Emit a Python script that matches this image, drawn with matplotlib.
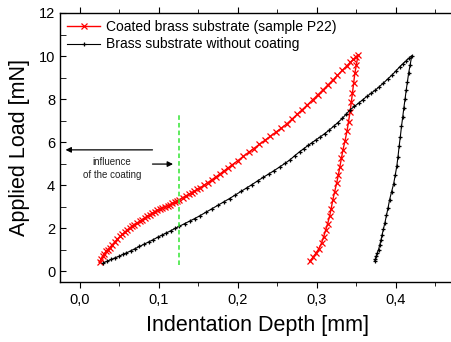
import matplotlib
matplotlib.use('Agg')
import matplotlib.pyplot as plt

plt.rcParams['font.family'] = ['Liberation Sans', 'DejaVu Sans']

# coated sample (P22): loading then unloading
coat_load_x = [0.025, 0.027, 0.029, 0.031, 0.033, 0.0355, 0.038, 0.041, 0.044, 0.0475,
               0.051, 0.054, 0.057, 0.060, 0.063, 0.066, 0.069, 0.0725, 0.076, 0.079,
               0.082, 0.0855, 0.089, 0.092, 0.095, 0.098, 0.101, 0.1045, 0.108, 0.111,
               0.114, 0.117, 0.120, 0.123, 0.126, 0.130, 0.134, 0.138, 0.1415, 0.145,
               0.1485, 0.152, 0.157, 0.162, 0.167, 0.172, 0.177, 0.182, 0.1875, 0.193,
               0.200, 0.207, 0.2135, 0.220, 0.227, 0.234, 0.241, 0.248, 0.255, 0.262,
               0.2685, 0.275, 0.2815, 0.288, 0.2945, 0.301, 0.3075, 0.314, 0.320, 0.326,
               0.332, 0.338, 0.342, 0.346, 0.349, 0.352]
coat_load_y = [0.42, 0.56, 0.70, 0.81, 0.92, 1.01, 1.10, 1.23, 1.35, 1.49,
               1.62, 1.72, 1.82, 1.92, 2.01, 2.09, 2.17, 2.25, 2.32, 2.40,
               2.48, 2.56, 2.63, 2.70, 2.76, 2.83, 2.89, 2.95, 3.00, 3.05,
               3.10, 3.15, 3.20, 3.25, 3.30, 3.42, 3.50, 3.58, 3.65, 3.72,
               3.80, 3.87, 3.99, 4.12, 4.25, 4.38, 4.51, 4.65, 4.80, 4.95,
               5.14, 5.34, 5.52, 5.70, 5.89, 6.08, 6.27, 6.46, 6.65, 6.85,
               7.07, 7.29, 7.51, 7.73, 7.96, 8.19, 8.42, 8.66, 8.88, 9.10,
               9.33, 9.55, 9.70, 9.84, 9.95, 10.06]
coat_unload_x = [0.352, 0.350, 0.348, 0.3465, 0.345, 0.3435, 0.342, 0.340, 0.338,
                 0.3355, 0.333, 0.331, 0.329, 0.327, 0.325, 0.3225, 0.320, 0.318,
                 0.316, 0.3135, 0.311, 0.3085, 0.306, 0.3025, 0.299, 0.295, 0.291]
coat_unload_y = [10.06, 9.60, 9.20, 8.75, 8.30, 7.85, 7.42, 6.95, 6.50,
                 6.05, 5.65, 5.25, 4.85, 4.45, 4.10, 3.70, 3.30, 2.90,
                 2.55, 2.20, 1.90, 1.60, 1.32, 1.05, 0.85, 0.65, 0.46]

# uncoated brass
brass_load_x = [0.030, 0.035, 0.040, 0.045, 0.050, 0.0545, 0.059, 0.0645, 0.070, 0.0755,
                0.081, 0.087, 0.093, 0.0985, 0.104, 0.1095, 0.115, 0.1205, 0.126, 0.1325,
                0.139, 0.1455, 0.152, 0.1595, 0.167, 0.1745, 0.182, 0.1895, 0.197, 0.204,
                0.211, 0.218, 0.225, 0.232, 0.239, 0.246, 0.253, 0.2595, 0.266, 0.272,
                0.278, 0.2835, 0.289, 0.294, 0.299, 0.3045, 0.310, 0.3155, 0.321, 0.3265,
                0.332, 0.337, 0.342, 0.3475, 0.353, 0.358, 0.363, 0.3685, 0.374, 0.379,
                0.384, 0.3895, 0.395, 0.400, 0.405, 0.409, 0.413, 0.4165, 0.420]
brass_load_y = [0.39, 0.47, 0.55, 0.63, 0.70, 0.78, 0.85, 0.95, 1.05, 1.15,
                1.25, 1.36, 1.47, 1.58, 1.68, 1.78, 1.88, 1.99, 2.09, 2.21,
                2.33, 2.45, 2.58, 2.74, 2.90, 3.06, 3.22, 3.38, 3.55, 3.71,
                3.87, 4.03, 4.20, 4.36, 4.52, 4.68, 4.85, 5.01, 5.18, 5.37,
                5.55, 5.70, 5.85, 5.98, 6.11, 6.25, 6.40, 6.56, 6.73, 6.91,
                7.10, 7.30, 7.50, 7.66, 7.82, 7.97, 8.12, 8.27, 8.42, 8.58,
                8.74, 8.93, 9.12, 9.31, 9.51, 9.65, 9.78, 9.90, 10.02]
brass_unload_x = [0.420, 0.418, 0.416, 0.4145, 0.413, 0.4115, 0.410, 0.4085, 0.407, 0.4055,
                  0.404, 0.4025, 0.401, 0.399, 0.397, 0.3945, 0.392, 0.390, 0.388, 0.386,
                  0.384, 0.3825, 0.381, 0.3795, 0.378, 0.3765, 0.375, 0.374, 0.373]
brass_unload_y = [10.02, 9.60, 9.20, 8.80, 8.43, 8.00, 7.60, 7.15, 6.73, 6.25,
                  5.80, 5.30, 4.87, 4.45, 4.05, 3.70, 3.33, 2.95, 2.60, 2.25,
                  1.94, 1.70, 1.45, 1.22, 1.01, 0.85, 0.70, 0.56, 0.46]

xticks = [0.0, 0.1, 0.2, 0.3, 0.4]
xticklabels = ['0,0', '0,1', '0,2', '0,3', '0,4']
yticks = [0, 2, 4, 6, 8, 10, 12]

fig = plt.figure(figsize=(4.51, 3.42), dpi=100)
ax = fig.add_axes([60 / 451, 60 / 342, 395.25 / 451, 269 / 342])

ax.plot(coat_load_x + coat_unload_x[1:], coat_load_y + coat_unload_y[1:],
        color='red', lw=1.0, marker='x', ms=3.8, mew=0.9,
        label='Coated brass substrate (sample P22)')
ax.plot(brass_load_x + brass_unload_x[1:], brass_load_y + brass_unload_y[1:],
        color='black', lw=0.8, marker='+', ms=3.5, mew=0.9,
        label='Brass substrate without coating')

# influence of the coating
ax.plot([0.126, 0.126], [0.3, 7.35], color='#33e633', lw=1.1, ls=(0, (3, 2)))
ax.annotate('', xy=(-0.018, 5.64), xytext=(0.092, 5.64),
            arrowprops=dict(arrowstyle='-|>', color='black', lw=0.9,
                            mutation_scale=8, shrinkA=0, shrinkB=0))
ax.annotate('', xy=(0.118, 4.98), xytext=(0.092, 4.98),
            arrowprops=dict(arrowstyle='-|>', color='black', lw=0.9,
                            mutation_scale=8, shrinkA=0, shrinkB=0))
ax.text(0.0405, 4.79, 'influence\nof the coating', ha='center', va='center',
        fontsize=7, color='#222222', linespacing=1.35)

ax.set_xlim(-0.025, 0.475)
ax.set_ylim(-0.5, 12)
ax.set_xticks(xticks)
ax.set_xticklabels(xticklabels)
ax.set_xticks([0.05, 0.15, 0.25, 0.35, 0.45], minor=True)
ax.set_yticks(yticks)
ax.set_yticks([1, 3, 5, 7, 9, 11], minor=True)
ax.tick_params(axis='x', which='both', direction='out', labelsize=10.5, pad=4)
ax.tick_params(axis='x', which='major', length=4)
ax.tick_params(axis='x', which='minor', length=3)
ax.tick_params(axis='y', which='both', direction='in', length=4, labelsize=10.5)
ax.tick_params(axis='x', which='both', top=True)
ax.spines['right'].set_visible(False)
for s in ['left', 'bottom', 'top']:
    ax.spines[s].set_linewidth(1.0)

ax.set_xlabel('Indentation Depth [mm]', fontsize=15.5, labelpad=6)
ax.set_ylabel('Applied Load [mN]', fontsize=15.5, labelpad=6)

ax.legend(loc='upper left', bbox_to_anchor=(67 / 451, 1 - 20 / 342),
          bbox_transform=fig.transFigure, frameon=False, fontsize=10,
          handlelength=2.4, handletextpad=0.4, labelspacing=0.25,
          borderpad=0, borderaxespad=0)

fig.savefig('out.png', dpi=100)
